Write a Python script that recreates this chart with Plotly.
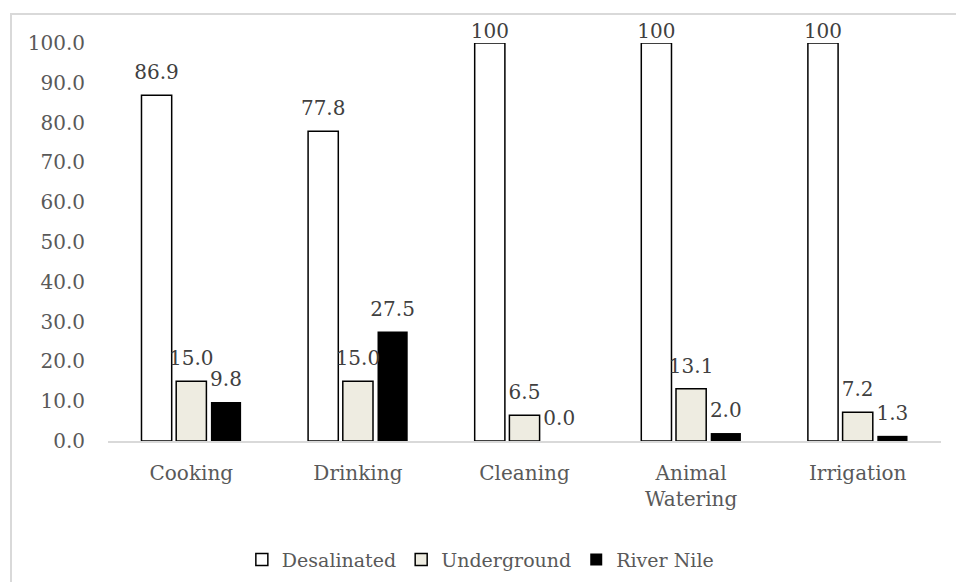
import plotly.graph_objects as go

# Water source use by purpose (%)
categories = ["Cooking", "Drinking", "Cleaning", "Animal<br>Watering", "Irrigation"]
desalinated = [86.9, 77.8, 100, 100, 100]
underground = [15.0, 15.0, 6.5, 13.1, 7.2]
river_nile = [9.8, 27.5, 0.0, 2.0, 1.3]
y_ticks = [0, 10, 20, 30, 40, 50, 60, 70, 80, 90, 100]

FONT = "DejaVu Serif"
SIZE = 20
TEXT_GREY = "#595959"
LABEL_GREY = "#404040"
BARGAP = 0.375


def fmt_one_decimal(vals):
    return [f"{v:.1f}" for v in vals]


def fmt_plain(vals):
    return [f"{v:.1f}" if v != int(v) else f"{int(v)}" for v in vals]


def add_series(name, values, labels, fill, outline):
    fig.add_trace(go.Bar(
        name=name, x=categories, y=values, offsetgroup=name,
        marker=dict(color=fill, line=dict(color="#000000", width=outline)),
    ))
    # value labels floating above each bar; labels at the top of the
    # axis are kept tight against the bar so they stay inside the frame
    fig.add_trace(go.Scatter(
        x=categories, y=values, offsetgroup=name, mode="markers+text",
        text=labels, textposition="top center", cliponaxis=False,
        marker=dict(color="rgba(0,0,0,0)", line=dict(width=0),
                    size=[0 if v >= 95 else 16 for v in values]),
        textfont=dict(family=FONT, size=SIZE, color=LABEL_GREY),
        showlegend=False, hoverinfo="skip",
    ))


fig = go.Figure()
add_series("Desalinated", desalinated, fmt_plain(desalinated), "#ffffff", 1.5)
add_series("Underground", underground, fmt_one_decimal(underground), "#eeece1", 1.5)
add_series("River Nile", river_nile, fmt_one_decimal(river_nile), "#000000", 0)

fig.update_layout(
    width=956, height=582,
    margin=dict(l=108, r=15, t=43, b=141, autoexpand=False),
    paper_bgcolor="#ffffff", plot_bgcolor="#ffffff",
    barmode="group", bargap=BARGAP, bargroupgap=0.13,
    scattermode="group", scattergap=BARGAP,
    font=dict(family=FONT, size=SIZE, color=TEXT_GREY),
    showlegend=True,
    legend=dict(
        orientation="h", x=0.447, xanchor="center", y=-0.298, yanchor="middle",
        font=dict(family=FONT, size=19, color=TEXT_GREY),
        itemwidth=30, tracegroupgap=0,
    ),
)
fig.update_xaxes(
    showline=True, linecolor="#d9d9d9", linewidth=2,
    showgrid=False, ticks="", ticklabelstandoff=13,
    tickfont=dict(family=FONT, size=SIZE, color=TEXT_GREY),
)
fig.update_yaxes(
    range=[0, 100], tickvals=y_ticks, ticktext=[f"{v:.1f}" for v in y_ticks],
    showgrid=False, zeroline=False, showline=False, ticks="",
    ticklabelstandoff=22,
    tickfont=dict(family=FONT, size=SIZE, color=TEXT_GREY),
)

# Outer chart frame (top and left edges visible inside the canvas)
fig.add_shape(type="rect", xref="paper", yref="paper",
              x0=(11 - 108) / 833, x1=1.1, y0=-0.6, y1=(441 - 14) / 398,
              line=dict(color="#d9d9d9", width=2), fillcolor="rgba(0,0,0,0)",
              layer="below")

fig.write_html("out.html")
